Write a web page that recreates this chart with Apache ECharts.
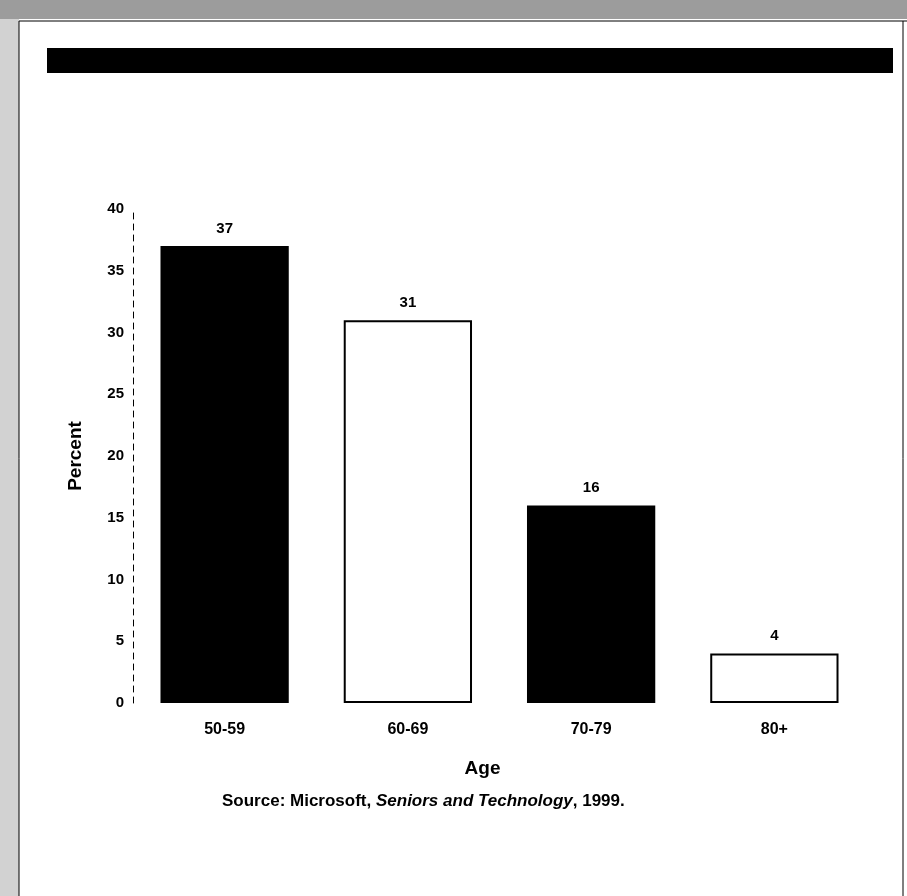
<!DOCTYPE html>
<html>
<head>
<meta charset="utf-8">
<script src="https://cdn.jsdelivr.net/npm/echarts@6/dist/echarts.min.js"></script>
<style>
html,body{margin:0;padding:0;background:#fff;}
#chart{width:907px;height:896px;}
</style>
</head>
<body>
<div id="chart"></div>
<script>
const categories = ['50-59', '60-69', '70-79', '80+'];
const percentValues = [37, 31, 16, 4];
const yTicks = [0, 5, 10, 15, 20, 25, 30, 35, 40];

const FONT = '"Liberation Sans", Arial, Helvetica, sans-serif';
const fills = ['#000000', '#ffffff', '#000000', '#ffffff'];

const chart = echarts.init(document.getElementById('chart'), null, {renderer: 'canvas'});
chart.setOption({
  backgroundColor: '#ffffff',
  animation: false,
  grid: {left: 133, right: 41, top: 209, bottom: 193},
  xAxis: {
    type: 'category',
    data: categories,
    axisLine: {show: false},
    axisTick: {show: false},
    axisLabel: {margin: 19, color: '#000', fontFamily: FONT, fontWeight: 'bold', fontSize: 16},
    name: 'Age',
    nameLocation: 'middle',
    nameGap: 56,
    nameTextStyle: {color: '#000', fontFamily: FONT, fontWeight: 'bold', fontSize: 19, padding: [0, 34, 0, 0]}
  },
  yAxis: {
    type: 'value',
    min: 0, max: 40, interval: 5,
    axisLine: {show: true, lineStyle: {color: '#000', width: 1, type: [6, 5]}},
    axisTick: {show: false},
    splitLine: {show: false},
    axisLabel: {margin: 9, color: '#000', fontFamily: FONT, fontWeight: 'bold', fontSize: 15,
      formatter: v => yTicks.includes(v) ? String(v) : ''},
    name: 'Percent',
    nameLocation: 'middle',
    nameGap: 48,
    nameTextStyle: {color: '#000', fontFamily: FONT, fontWeight: 'bold', fontSize: 19}
  },
  series: [{
    type: 'bar',
    barWidth: '70%',
    data: percentValues.map((v, i) => ({
      value: v,
      itemStyle: {color: fills[i], borderColor: '#000', borderWidth: fills[i] === '#ffffff' ? 2 : 0}
    })),
    label: {show: true, position: 'top', distance: 10, color: '#000', fontFamily: FONT, fontWeight: 'bold', fontSize: 15}
  }],
  graphic: [
    {type: 'rect', shape: {x: 0, y: 0, width: 907, height: 19}, style: {fill: '#9c9c9c'}, silent: true},
    {type: 'rect', shape: {x: 0, y: 19, width: 19, height: 877}, style: {fill: '#d2d2d2'}, silent: true},
    {type: 'line', shape: {x1: 19, y1: 21, x2: 907, y2: 21}, style: {stroke: '#000', lineWidth: 1}, silent: true},
    {type: 'line', shape: {x1: 19, y1: 21, x2: 19, y2: 896}, style: {stroke: '#000', lineWidth: 1}, silent: true},
    {type: 'line', shape: {x1: 903, y1: 21, x2: 903, y2: 896}, style: {stroke: '#000', lineWidth: 1}, silent: true},
    {type: 'rect', shape: {x: 47, y: 48, width: 846, height: 25}, style: {fill: '#000'}, silent: true},
    {
      type: 'text', left: 222, top: 793,
      style: {
        text: '{n|Source: Microsoft, }{i|Seniors and Technology}{n|, 1999.}',
        rich: {
          n: {fontFamily: FONT, fontWeight: 'bold', fontSize: 17, fill: '#000'},
          i: {fontFamily: FONT, fontWeight: 'bold', fontStyle: 'italic', fontSize: 17, fill: '#000'}
        }
      },
      silent: true
    }
  ]
});
</script>
</body>
</html>
